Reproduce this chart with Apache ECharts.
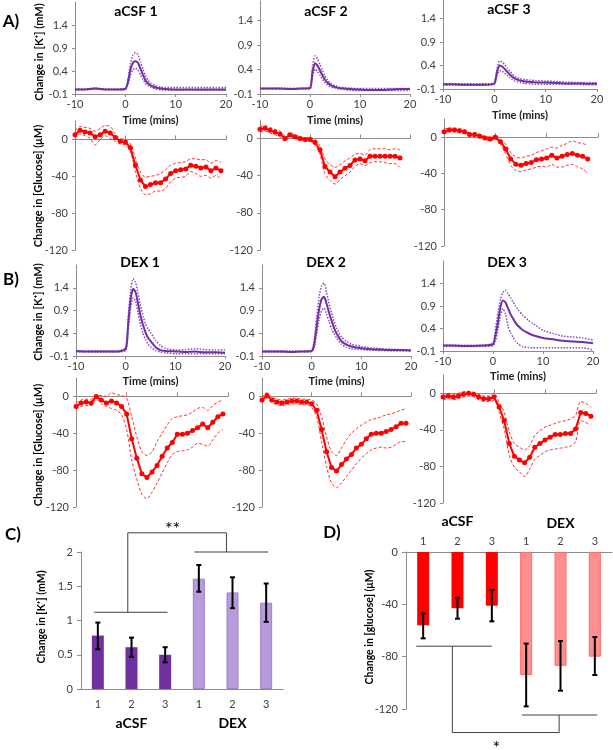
<!DOCTYPE html>
<html><head><meta charset="utf-8">
<script src="https://cdn.jsdelivr.net/npm/echarts@6/dist/echarts.min.js"></script>
<style>html,body{margin:0;padding:0;background:#fff}#c{width:613px;height:750px}</style>
</head><body><div id="c"></div>
<script>
// ---------- K+ traces (mM) ----------
const kTime = [-10,-8,-6,-4,-2,0,0.5,1,1.5,2,2.5,3,3.5,4,4.5,5,6,7,8,10,12,14,16,18,20];
const kA1Mean = [0,0,0.02,0,0,0.01,0.15,0.42,0.58,0.61,0.58,0.45,0.32,0.2,0.13,0.09,0.04,0.02,0.01,0,0,0,0,0,0];
const kA1Up   = [0.01,0.01,0.03,0.01,0.01,0.02,0.2,0.55,0.75,0.8,0.76,0.6,0.44,0.3,0.2,0.14,0.08,0.05,0.04,0.04,0.04,0.04,0.04,0.04,0.04];
const kA1Lo   = [-0.01,-0.01,0.01,-0.01,-0.01,0,0.1,0.3,0.43,0.46,0.42,0.32,0.22,0.13,0.08,0.05,0.01,-0.01,-0.02,-0.02,-0.02,-0.02,-0.02,-0.02,-0.02];
const kA2Mean = [0.01,0.01,0.01,0,0.01,0.02,0.35,0.53,0.48,0.38,0.28,0.19,0.13,0.09,0.06,0.04,0.02,0.01,0,-0.01,-0.02,-0.02,-0.01,0,0];
const kA2Up   = [0.02,0.02,0.02,0.02,0.02,0.04,0.45,0.68,0.62,0.5,0.38,0.27,0.19,0.13,0.09,0.07,0.04,0.03,0.02,0.01,0.01,0.01,0.01,0.01,0.01];
const kA2Lo   = [0,0,0,0,0,0,0.25,0.41,0.36,0.28,0.2,0.13,0.08,0.05,0.03,0.02,0,-0.01,-0.03,-0.03,-0.03,-0.03,-0.03,-0.03,-0.03];
const kA3Mean = [0,0,-0.01,-0.01,-0.01,0.02,0.25,0.4,0.38,0.33,0.27,0.21,0.16,0.12,0.1,0.08,0.06,0.05,0.04,0.04,0.03,0.02,0.02,0.01,0.01];
const kA3Up   = [0.01,0.01,0.01,0.01,0.01,0.04,0.32,0.5,0.48,0.42,0.35,0.28,0.22,0.17,0.14,0.12,0.1,0.09,0.08,0.07,0.06,0.05,0.04,0.04,0.03];
const kA3Lo   = [-0.02,-0.02,-0.02,-0.02,-0.02,0,0.18,0.29,0.28,0.24,0.19,0.14,0.1,0.07,0.05,0.04,0.02,0.01,0,0,0,0,0,-0.01,-0.01];
const kB1Mean = [0.01,0,0,0,0,0.05,0.6,1.15,1.38,1.3,1.05,0.78,0.58,0.42,0.3,0.23,0.1,0.03,0.01,0,-0.01,0,-0.02,-0.02,-0.03];
const kB1Up   = [0.01,0.01,0.01,0.01,0.01,0.08,0.75,1.35,1.6,1.52,1.27,1.0,0.78,0.6,0.5,0.42,0.25,0.13,0.07,0.03,0.04,0.06,0.04,0.03,0.03];
const kB1Lo   = [-0.01,-0.01,-0.01,-0.01,-0.01,0.02,0.45,0.95,1.18,1.1,0.85,0.58,0.4,0.26,0.16,0.1,0.02,-0.01,-0.03,-0.05,-0.05,-0.05,-0.05,-0.05,-0.05];
const kB2Mean = [0,0,0,-0.01,0,0.01,0.15,0.55,0.92,1.15,1.2,1.05,0.85,0.68,0.52,0.4,0.23,0.15,0.11,0.07,0.05,0.04,0.03,0.03,0.02];
const kB2Up   = [0.01,0.01,0.01,0.01,0.01,0.03,0.25,0.75,1.2,1.45,1.5,1.3,1.05,0.85,0.66,0.52,0.32,0.22,0.16,0.11,0.08,0.06,0.05,0.04,0.03];
const kB2Lo   = [-0.01,-0.01,-0.01,-0.01,-0.01,0,0.08,0.38,0.7,0.9,0.95,0.82,0.66,0.5,0.39,0.3,0.16,0.09,0.06,0.04,0.03,0.02,0.01,0.01,0.01];
const kB3Mean = [0.02,0.02,0.01,0.01,0.02,0.05,0.25,0.55,0.88,1.02,0.98,0.85,0.72,0.62,0.53,0.46,0.36,0.3,0.25,0.19,0.16,0.13,0.11,0.1,0.07];
const kB3Up   = [0.03,0.03,0.03,0.03,0.03,0.08,0.4,0.75,1.05,1.2,1.25,1.18,1.08,0.99,0.9,0.82,0.69,0.59,0.51,0.36,0.29,0.23,0.21,0.19,0.14];
const kB3Lo   = [0,0,0,0,0,0.02,0.12,0.38,0.7,0.84,0.72,0.45,0.3,0.21,0.12,0.06,-0.01,-0.02,-0.03,-0.03,-0.03,-0.03,-0.03,-0.03,-0.08];

// ---------- Glucose traces (uM) ----------
const gTimeLong  = [-10,-9,-8,-7,-6,-5,-4,-3,-2,-1,0,1,2,3,4,5,6,7,8,9,10,11,12,13,14,15,16,17,18,19];
const gTimeShort = [-10,-9,-8,-7,-6,-5,-4,-3,-2,-1,0,1,2,3,4,5,6,7,8,9,10,11,12,13,14,15,16,17,18];
const gA1Mean = [5,10,8,7,3,5,9,7,2,-2,-3,-9,-28,-44,-51,-49,-47,-47,-43,-37,-34,-33,-32,-28,-29,-31,-30,-34,-31,-34];
const gA1Up   = [10,14,13,12,9,12,15,14,6,1,0,-5,-20,-35,-41,-40,-39,-37,-33,-28,-26,-25,-24,-21,-21,-22,-22,-26,-23,-25];
const gA1Lo   = [1,6,4,1,-6,0,4,1,-2,-5,-6,-13,-35,-53,-60,-59,-56,-56,-53,-46,-42,-41,-40,-35,-37,-40,-39,-42,-39,-43];
const gA2Mean = [10,11,9,7,5,0,4,2,0,-1,-1,-4,-12,-30,-36,-41,-36,-32,-29,-23,-22,-24,-19,-19,-19,-19,-19,-19,-21];
const gA2Up   = [13,14,12,10,8,3,6,4,2,1,1,-1,-8,-22,-28,-31,-28,-24,-21,-17,-16,-18,-12,-11,-11,-11,-12,-11,-12];
const gA2Lo   = [7,8,6,4,2,-3,2,0,-2,-3,-3,-7,-17,-38,-45,-49,-44,-40,-36,-30,-27,-29,-26,-25,-25,-26,-27,-27,-31];
const gA3Mean = [6,8,8,7,6,3,3,1,-1,-2,0,-5,-13,-24,-30,-31,-29,-28,-25,-24,-23,-20,-23,-21,-19,-18,-20,-21,-24];
const gA3Up   = [9,10,10,9,8,5,5,3,1,0,2,-2,-8,-17,-22,-23,-21,-20,-17,-15,-13,-11,-12,-9,-7,-4,-6,-7,-9];
const gA3Lo   = [3,6,6,5,4,1,1,-1,-3,-4,-2,-8,-18,-31,-37,-38,-36,-35,-33,-32,-33,-30,-33,-33,-31,-30,-33,-35,-40];
const gB1Mean = [-11,-7,-6,-7,0,-4,-7,-5,-7,-11,-19,-46,-67,-84,-88,-82,-75,-65,-56,-50,-41,-41,-40,-37,-34,-30,-34,-28,-22,-19];
const gB1Up   = [-7,-4,-3,-3,1,1,0,4,2,1,-2,-22,-44,-60,-64,-60,-49,-40,-31,-24,-22,-21,-20,-17,-13,-12,-15,-10,-6,-4];
const gB1Lo   = [-14,-11,-10,-10,-3,-8,-11,-13,-15,-20,-36,-69,-90,-106,-111,-104,-94,-83,-72,-63,-60,-59,-58,-55,-51,-52,-54,-47,-40,-36];
const gB2Mean = [-4,1,-4,-6,-7,-6,-5,-5,-6,-6,-8,-15,-36,-60,-77,-81,-74,-68,-63,-56,-52,-46,-41,-40,-40,-38,-36,-33,-29,-29];
const gB2Up   = [-1,4,-1,-3,-4,-3,-2,-2,-3,-3,-4,-8,-22,-44,-60,-64,-56,-47,-40,-35,-31,-28,-25,-24,-22,-20,-19,-17,-15,-13];
const gB2Lo   = [-7,-2,-7,-9,-10,-9,-8,-8,-9,-9,-12,-22,-49,-76,-94,-99,-94,-87,-80,-73,-67,-62,-58,-56,-55,-56,-55,-52,-49,-49];
const gB3Mean = [-4,-3,-4,-3,-1,0,-1,-4,-6,-6,-4,-15,-30,-55,-69,-73,-76,-70,-59,-55,-51,-48,-45,-45,-44,-44,-39,-21,-22,-25];
const gB3Up   = [-1,0,-1,0,2,2,1,-1,-3,-3,0,-10,-21,-42,-55,-59,-62,-57,-46,-41,-37,-35,-33,-31,-30,-28,-24,-9,-11,-15];
const gB3Lo   = [-7,-6,-7,-6,-4,-3,-4,-7,-9,-9,-8,-21,-39,-68,-81,-86,-91,-83,-72,-68,-64,-62,-61,-60,-59,-58,-53,-30,-32,-34];

// ---------- Bar panels ----------
const barCats = ['1','2','3','1','2','3'];
const groupNames = ['aCSF','DEX'];
const kBarMean = [0.78,0.61,0.50,1.61,1.41,1.26];
const kBarLow  = [0.58,0.47,0.39,1.42,1.18,0.98];
const kBarHigh = [0.97,0.75,0.61,1.81,1.63,1.54];
const gBarMean = [-56,-43,-41,-94,-87,-80];
const gBarHigh = [-47,-35,-29,-70,-68,-65];
const gBarLow  = [-66,-51,-53,-118,-106,-94];

// tick labels
const kTicks = [-0.1,0.4,0.9,1.4];
const gTicks = [-120,-80,-40,0];
const kTitlesA = ['aCSF 1','aCSF 2','aCSF 3'];
const kTitlesB = ['DEX 1','DEX 2','DEX 3'];

// ---------- styles ----------
const FONT = 'Lato, "Liberation Sans", sans-serif';
const AX = '#8C8C8C', TX = '#404040';
const PURPLE = '#7030A0', PURPLE_L = '#8A48C8';
const RED = '#FF0000', RED_L = '#FF3030';

const grids = [
  {left:75, top:2, width:151, height:92},
  {left:260, top:1, width:150, height:93},
  {left:443, top:0, width:154, height:89},
  {left:75, top:121, width:151, height:129},
  {left:260, top:120, width:150, height:130},
  {left:444, top:119, width:154, height:127},
  {left:76, top:265, width:149, height:91},
  {left:262, top:265, width:149, height:91},
  {left:443, top:261, width:150, height:90},
  {left:76, top:378, width:152, height:129},
  {left:262, top:378, width:149, height:129},
  {left:443, top:375, width:153, height:128},
  {left:81, top:552, width:202, height:137},
  {left:406, top:552, width:206, height:157}
];
const kMax = [1.9,1.8,1.8,null,null,null,1.9,1.9,1.9];
const xAxes = [], yAxes = [], series = [];
const lbl = {fontSize:11, color:TX, fontFamily:FONT};
const zip = (t,a) => t.map((x,i)=>[x,a[i]]);

function addK(g, mean, up, lo, nameGap){
  xAxes.push({gridIndex:g, type:'value', min:-10, max:20, interval:10,
    axisLine:{onZero:false, lineStyle:{color:AX}}, axisTick:{length:3, lineStyle:{color:AX}},
    axisLabel:Object.assign({margin:5}, lbl), splitLine:{show:false},
    name:'Time (mins)', nameLocation:'middle', nameGap:nameGap,
    nameTextStyle:{fontWeight:'bold', fontSize:11, color:'#222', fontFamily:FONT}});
  yAxes.push({gridIndex:g, type:'value', min:-0.1, max:kMax[g],
    axisLine:{show:true, onZero:false, lineStyle:{color:AX}},
    axisTick:{show:true, length:3, customValues:kTicks, lineStyle:{color:AX}},
    axisLabel:Object.assign({margin:7, customValues:kTicks}, lbl), splitLine:{show:false}});
  [up, lo].forEach(d => series.push({type:'line', xAxisIndex:g, yAxisIndex:g, data:zip(kTime,d),
    symbol:'none', smooth:0.2, lineStyle:{color:PURPLE_L, width:1.5, type:'dotted'}}));
  series.push({type:'line', xAxisIndex:g, yAxisIndex:g, data:zip(kTime,mean), symbol:'none', smooth:0.2,
    lineStyle:{color:PURPLE, width:2}, z:3});
}
function addG(g, t, mean, up, lo){
  xAxes.push({gridIndex:g, type:'value', min:-10, max:20, interval:10,
    axisLine:{onZero:true, lineStyle:{color:AX}}, axisTick:{inside:true, length:4, lineStyle:{color:AX}},
    axisLabel:{show:false}, splitLine:{show:false}});
  yAxes.push({gridIndex:g, type:'value', min:-120, max:20,
    axisLine:{show:true, onZero:false, lineStyle:{color:AX}},
    axisTick:{show:true, length:3, customValues:gTicks, lineStyle:{color:AX}},
    axisLabel:Object.assign({margin:7, customValues:gTicks}, lbl), splitLine:{show:false}});
  [up, lo].forEach(d => series.push({type:'line', xAxisIndex:g, yAxisIndex:g, data:zip(t,d),
    symbol:'none', smooth:0.3, lineStyle:{color:RED_L, width:1, type:[3,2]}}));
  series.push({type:'line', xAxisIndex:g, yAxisIndex:g, data:zip(t,mean), symbol:'circle', symbolSize:5,
    itemStyle:{color:RED}, lineStyle:{color:RED, width:2}, z:3});
}
addK(0, kA1Mean, kA1Up, kA1Lo, 21);
addK(1, kA2Mean, kA2Up, kA2Lo, 21);
addK(2, kA3Mean, kA3Up, kA3Lo, 21);
addG(3, gTimeLong, gA1Mean, gA1Up, gA1Lo);
addG(4, gTimeShort, gA2Mean, gA2Up, gA2Lo);
addG(5, gTimeShort, gA3Mean, gA3Up, gA3Lo);
addK(6, kB1Mean, kB1Up, kB1Lo, 20);
addK(7, kB2Mean, kB2Up, kB2Lo, 20);
addK(8, kB3Mean, kB3Up, kB3Lo, 20);
addG(9, gTimeLong, gB1Mean, gB1Up, gB1Lo);
addG(10, gTimeLong, gB2Mean, gB2Up, gB2Lo);
addG(11, gTimeLong, gB3Mean, gB3Up, gB3Lo);

// panel C
xAxes.push({gridIndex:12, type:'category', data:barCats, axisLine:{lineStyle:{color:AX}}, axisTick:{show:false},
  axisLabel:Object.assign({margin:10}, lbl)});
yAxes.push({gridIndex:12, type:'value', min:0, max:2, interval:0.5, axisLine:{show:true, lineStyle:{color:AX}},
  axisTick:{show:true, length:4, lineStyle:{color:AX}}, axisLabel:Object.assign({margin:8}, lbl), splitLine:{show:false}});
// panel D
xAxes.push({gridIndex:13, type:'category', position:'top', data:barCats, axisLine:{lineStyle:{color:AX}}, axisTick:{show:false},
  axisLabel:Object.assign({margin:5}, lbl)});
yAxes.push({gridIndex:13, type:'value', min:-120, max:0, interval:40, axisLine:{show:true, lineStyle:{color:AX}},
  axisTick:{show:true, length:4, lineStyle:{color:AX}}, axisLabel:Object.assign({margin:8}, lbl), splitLine:{show:false}});

const cDark = {color:PURPLE}, cLight = {color:'#B89BDA', borderColor:'#A07ED0', borderWidth:1};
const dDark = {color:RED}, dLight = {color:'#FF8E8E', borderColor:'#FF6A6A', borderWidth:1};
series.push({type:'bar', xAxisIndex:12, yAxisIndex:12, barWidth:12,
  data:kBarMean.map((v,i)=>({value:v, itemStyle:i<3?cDark:cLight}))});
series.push({type:'bar', xAxisIndex:13, yAxisIndex:13, barWidth:12,
  data:gBarMean.map((v,i)=>({value:v, itemStyle:i<3?dDark:dLight}))});
function errRender(params, api){
  const i = api.value(0), lo = api.value(1), hi = api.value(2);
  const a = api.coord([i, hi]), b = api.coord([i, lo]), w = 2.5;
  const st = {stroke:'#000', lineWidth:2};
  return {type:'group', children:[
    {type:'line', shape:{x1:a[0], y1:a[1], x2:b[0], y2:b[1]}, style:st},
    {type:'line', shape:{x1:a[0]-w, y1:a[1], x2:a[0]+w, y2:a[1]}, style:st},
    {type:'line', shape:{x1:b[0]-w, y1:b[1], x2:b[0]+w, y2:b[1]}, style:st}
  ]};
}
series.push({type:'custom', xAxisIndex:12, yAxisIndex:12, renderItem:errRender, encode:{x:0, y:[1,2]}, z:5,
  data:kBarMean.map((_,i)=>[i, kBarLow[i], kBarHigh[i]])});
series.push({type:'custom', xAxisIndex:13, yAxisIndex:13, renderItem:errRender, encode:{x:0, y:[1,2]}, z:5,
  data:gBarMean.map((_,i)=>[i, gBarLow[i], gBarHigh[i]])});

const chart = echarts.init(document.getElementById('c'), null, {renderer:'canvas'});
chart.setOption({animation:false, backgroundColor:'#fff', grid:grids, xAxis:xAxes, yAxis:yAxes, series:series});

// ---------- annotations ----------
const els = [];
function txt(x, y, s, font, rot){
  els.push({type:'text', x:x, y:y, rotation:rot||0, z:10,
    style:{text:s, font:font, fill:'#000', align:'center', verticalAlign:'middle'}});
}
function ln(x1,y1,x2,y2){
  els.push({type:'line', z:10, shape:{x1,y1,x2,y2}, style:{stroke:'#404040', lineWidth:1}});
}
const TF = 'bold 14px ' + FONT, PF = 'bold 17px ' + FONT, NF = 'bold 11px ' + FONT, NFs = 'bold 10.5px ' + FONT;
[[136,11],[326,11],[509,9]].forEach((p,i)=>txt(p[0],p[1],kTitlesA[i],TF));
[[140,262],[326,262],[507,262]].forEach((p,i)=>txt(p[0],p[1],kTitlesB[i],TF));
txt(11,22,'A)',PF); txt(11,280,'B)',PF); txt(13,535,'C)',PF); txt(332,533,'D)',PF);
txt(39,52,'Change in [K\u207A] (mM)',NF,Math.PI/2);
txt(38,186,'Change in [Glucose] (\u03BCM)',NF,Math.PI/2);
txt(38,312,'Change in [K\u207A] (mM)',NF,Math.PI/2);
txt(38,445,'Change in [Glucose] (\u03BCM)',NF,Math.PI/2);
txt(42,617,'Change in [K\u207A] (mM)',NFs,Math.PI/2);
txt(370,627,'Change in [glucose] (\u03BCM)',NFs,Math.PI/2);

function bracketSys(gi){
  const p0 = chart.convertToPixel({gridIndex:gi}, [0, 0]);
  const p1 = chart.convertToPixel({gridIndex:gi}, [1, 0]);
  const step = p1[0]-p0[0];
  return {x:c=>p0[0]+c*step, y:v=>chart.convertToPixel({gridIndex:gi},[0,v])[1]};
}
// C brackets
const C = bracketSys(12);
ln(C.x(-0.11),C.y(1.12),C.x(2.07),C.y(1.12));
ln(C.x(0.89),C.y(1.12),C.x(0.89),C.y(2.28));
ln(C.x(0.89),C.y(2.28),C.x(3.82),C.y(2.28));
ln(C.x(3.82),C.y(2.28),C.x(3.82),C.y(2.0));
ln(C.x(2.87),C.y(2.0),C.x(5.06),C.y(2.0));
txt(C.x(2.22),C.y(2.28)-4,'**','18px '+FONT);
txt(C.x(1),C.y(0)+34,groupNames[0],TF);
txt(C.x(4),C.y(0)+34,groupNames[1],TF);
// D brackets
const D = bracketSys(13);
ln(D.x(-0.2),D.y(-72),D.x(2.0),D.y(-72));
ln(D.x(0.85),D.y(-72),D.x(0.85),D.y(-138));
ln(D.x(0.85),D.y(-138),D.x(3.96),D.y(-138));
ln(D.x(3.96),D.y(-138),D.x(3.96),D.y(-124.6));
ln(D.x(2.88),D.y(-124.6),D.x(5.07),D.y(-124.6));
txt(D.x(2.13),D.y(-138)+16,'*','18px '+FONT);
txt(D.x(1),D.y(0)-31,groupNames[0],TF);
txt(D.x(4),D.y(0)-29,groupNames[1],TF);
chart.setOption({graphic:{elements:els}});
</script></body></html>
